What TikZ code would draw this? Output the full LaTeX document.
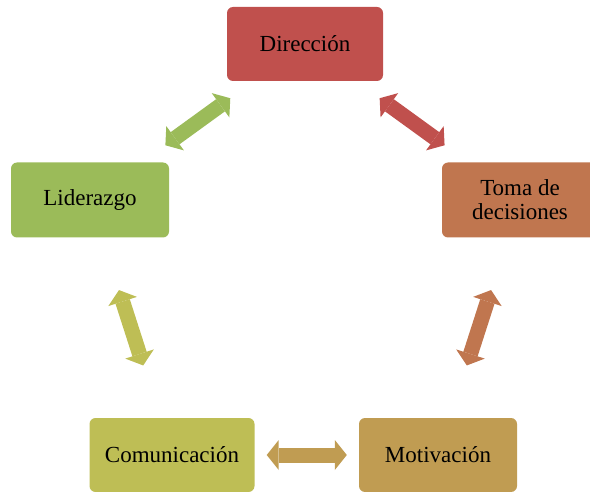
\documentclass[tikz,border=0pt]{standalone}
\usepackage{fontspec}
\setmainfont{Liberation Serif}
\usetikzlibrary{arrows.meta}

\definecolor{rojo}{HTML}{C0504D}
\definecolor{naranja}{HTML}{C0764F}
\definecolor{ocre}{HTML}{C09C52}
\definecolor{oliva}{HTML}{BEBE55}
\definecolor{verde}{HTML}{9BBB59}

\begin{document}
\begin{tikzpicture}[x=1pt, y=-1pt,
	caja/.style={shape=rectangle, rounded corners=6pt, align=center,
		inner sep=0pt, font=\fontsize{23}{24}\selectfont},
	flecha/.style={line width=15pt,
		{Triangle[width=30pt,length=12pt,line width=0pt]}-{Triangle[width=30pt,length=12pt,line width=0pt]}}]
	
	\useasboundingbox (0,0) rectangle (590,492);
	\clip (0,0) rectangle (590,492);
	
	\node[caja, fill=rojo, minimum width=156pt, minimum height=74pt] (dir) at (305, 44) {Dirección};
	\node[caja, fill=naranja, minimum width=156pt, minimum height=75pt] (toma) at (520, 200) {Toma de\\decisiones};
	\node[caja, fill=ocre, minimum width=158pt, minimum height=74pt] (mot) at (438, 455) {Motivación};
	\node[caja, fill=oliva, minimum width=165pt, minimum height=74pt] (com) at (172, 455) {Comunicación};
	\node[caja, fill=verde, minimum width=158pt, minimum height=75pt] (lid) at (90, 200) {Liderazgo};
	
	\path[flecha, rojo, shorten <=29pt, shorten >=29pt] (dir) edge (toma);
	\path[flecha, naranja, shorten <=55pt, shorten >=55pt] (toma) edge (mot);
	\path[flecha, ocre, shorten <=12pt, shorten >=12pt] (mot) edge (com);
	\path[flecha, oliva, shorten <=55pt, shorten >=55pt] (com) edge (lid);
	\path[flecha, verde, shorten <=29pt, shorten >=29pt] (lid) edge (dir);
	
\end{tikzpicture}
\end{document}
